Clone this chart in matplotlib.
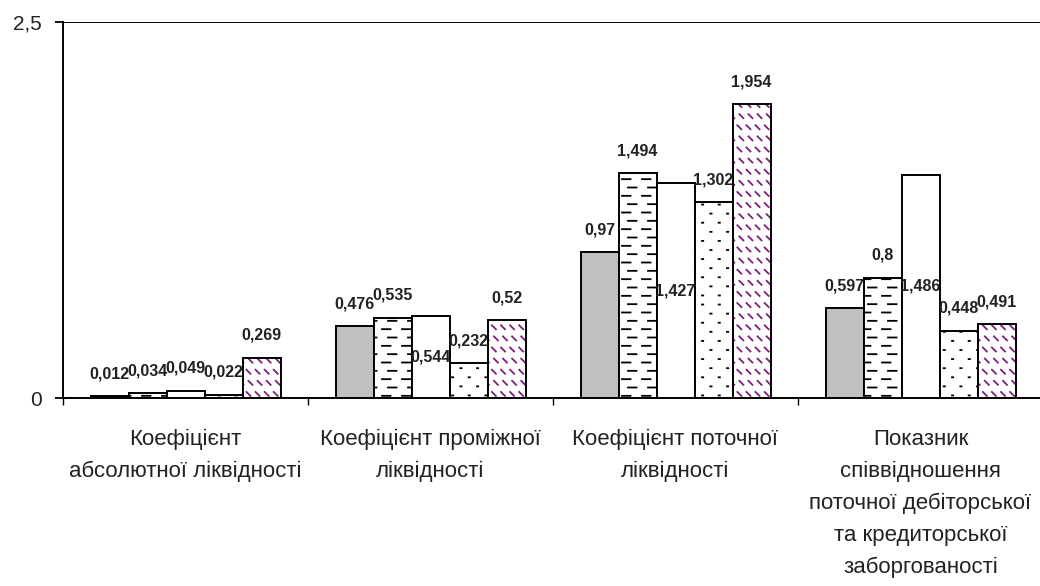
import numpy as np
import matplotlib
matplotlib.use("Agg")
import matplotlib.pyplot as plt
from matplotlib import hatch as mhatch
from matplotlib.path import Path
from matplotlib.transforms import blended_transform_factory

# ---------------- data ----------------
categories = [
    "Коефіцієнт\nабсолютної ліквідності",
    "Коефіцієнт проміжної\nліквідності",
    "Коефіцієнт поточної\nліквідності",
    "Показник\nспіввідношення\nпоточної дебіторської\nта кредиторської\nзаборгованості",
]
series1 = [0.012, 0.476, 0.97, 0.597]
series2 = [0.034, 0.535, 1.494, 0.8]
series3 = [0.049, 0.544, 1.427, 1.486]
series4 = [0.022, 0.232, 1.302, 0.448]
series5 = [0.269, 0.52, 1.954, 0.491]
y_ticks = [0, 2.5]
y_ticklabels = ["0", "2,5"]


# ---------------- custom hatch patterns ----------------
class DashHatch(mhatch.HatchPatternBase):
    """Short horizontal dashes ('d')."""
    def __init__(self, hatch, density):
        n = hatch.count('d')
        self.rows = 12 * n
        self.cols = 5
        self.num_vertices = self.rows * self.cols * 2

    def set_vertices_and_codes(self, vertices, codes):
        v = []
        for r in range(self.rows):
            y = (r + 0.5) / self.rows
            off = 0.02 if r % 2 == 0 else 0.08
            for c in range(self.cols):
                x0 = c / self.cols + off
                v.append([x0, y])
                v.append([x0 + 0.085, y])
        vertices[:] = v
        codes[0::2] = Path.MOVETO
        codes[1::2] = Path.LINETO


class SparseDotHatch(mhatch.HatchPatternBase):
    """Sparse staggered dots ('p')."""
    def __init__(self, hatch, density):
        n = hatch.count('p')
        self.rows = 11 * n
        self.cols = 6
        self.seg = 0.012
        self.num_vertices = self.rows * self.cols * 2

    def set_vertices_and_codes(self, vertices, codes):
        v = []
        for r in range(self.rows):
            y = (r + 0.5) / self.rows
            off = 0.02 if r % 2 == 0 else 0.02 + 0.5 / self.cols
            for c in range(self.cols):
                x0 = c / self.cols + off
                v.append([x0, y])
                v.append([x0 + self.seg, y])
        vertices[:] = v
        codes[0::2] = Path.MOVETO
        codes[1::2] = Path.LINETO


class BackslashHatch(mhatch.HatchPatternBase):
    """Short backslash strokes in rows ('b')."""
    def __init__(self, hatch, density):
        n = hatch.count('b')
        self.rows = 9 * n
        self.cols = 11
        self.num_vertices = self.rows * self.cols * 2

    def set_vertices_and_codes(self, vertices, codes):
        v = []
        for r in range(self.rows):
            y = (r + 0.5) / self.rows
            off = 0.01 if r % 2 == 0 else 0.03
            for c in range(self.cols):
                x0 = c / self.cols + off
                v.append([x0, y + 0.025])
                v.append([x0 + 0.04, y - 0.015])
        vertices[:] = v
        codes[0::2] = Path.MOVETO
        codes[1::2] = Path.LINETO


mhatch._hatch_types.extend([DashHatch, SparseDotHatch, BackslashHatch])

import warnings
warnings.filterwarnings("ignore")

plt.rcParams['font.family'] = ['Liberation Sans', 'DejaVu Sans']
plt.rcParams['hatch.linewidth'] = 1.3

fig = plt.figure(figsize=(10.4, 5.86), dpi=100)
ax = fig.add_axes([63 / 1040, 1 - 398 / 586, 980 / 1040, 376 / 586])

x = np.arange(len(categories))
w = 38 / 245
all_series = [series1, series2, series3, series4, series5]
offsets = [(i - 2) * w for i in range(5)]
edge_lw = 1.4

# series 1: grey fill
ax.bar(x + offsets[0], series1, w, color="#c0c0c0", edgecolor="black", linewidth=edge_lw, zorder=3)
# series 2: dashed hatch
ax.bar(x + offsets[1], series2, w, color="white", edgecolor="black", hatch="d", linewidth=edge_lw, zorder=3)
# series 3: plain white
ax.bar(x + offsets[2], series3, w, color="white", edgecolor="black", linewidth=edge_lw, zorder=3)
# series 4: sparse dots
ax.bar(x + offsets[3], series4, w, color="white", edgecolor="black", hatch="p", linewidth=edge_lw, zorder=3)
# series 5: purple backslash strokes, then black outline
ax.bar(x + offsets[4], series5, w, color="white", edgecolor="#7d1f7d", hatch="b", linewidth=0, zorder=3)
ax.bar(x + offsets[4], series5, w, fill=False, edgecolor="black", linewidth=edge_lw, zorder=4)

# data labels
px_per_unit = 376 / 2.5
for si, (vals, off) in enumerate(zip(all_series, offsets)):
    for xi, v in zip(x, vals):
        lab = ("%g" % v).replace(".", ",")
        if si == 2 and v * px_per_unit > 40:
            ax.text(xi + off, v / 2, lab, ha="center", va="center", fontsize=11.5,
                    fontweight="bold", color="#222222", zorder=6)
        else:
            ax.annotate(lab, (xi + off, v), xytext=(0, 16), textcoords="offset points",
                        ha="center", va="center", fontsize=11.5, fontweight="bold",
                        color="#222222", zorder=6)

ax.set_xlim(-0.5, len(categories) - 0.5)
ax.set_ylim(0, 2.5)

# y axis
ax.set_yticks(y_ticks)
ax.set_yticklabels(y_ticklabels, fontsize=15, color="#222222")
ax.tick_params(axis="y", direction="out", length=6, width=1.3, pad=9)
ax.yaxis.grid(True, color="black", linewidth=1.4, zorder=0)
ax.set_axisbelow(True)

# x axis: ticks at category boundaries
ax.set_xticks(np.arange(len(categories) + 1) - 0.5)
ax.set_xticklabels([])
ax.tick_params(axis="x", direction="out", length=5, width=1.0)
trans = blended_transform_factory(ax.transData, ax.transAxes)
for xi, cat in zip(x, categories):
    ax.text(xi, -0.082, cat, transform=trans, ha="center", va="top", fontsize=16,
            color="#222222", linespacing=1.67)

for s in ["top", "right"]:
    ax.spines[s].set_visible(False)
ax.spines["left"].set_linewidth(1.4)
ax.spines["bottom"].set_linewidth(1.4)

fig.savefig("out.png", dpi=100)
